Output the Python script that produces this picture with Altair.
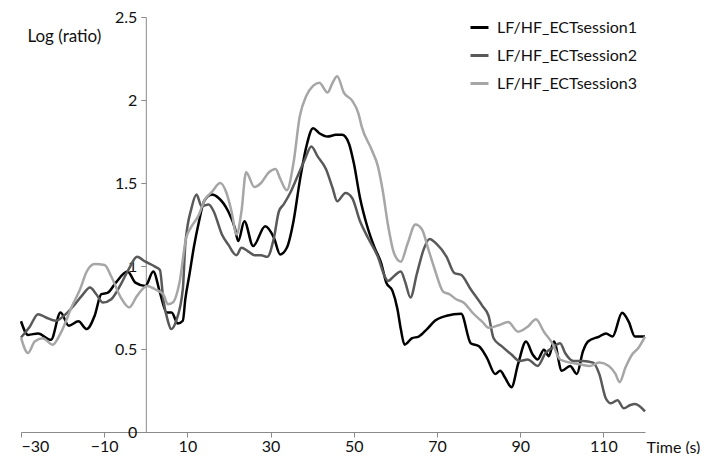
import altair as alt
import pandas as pd

# ---- data ----
series_names = ["LF/HF_ECTsession1", "LF/HF_ECTsession2", "LF/HF_ECTsession3"]
series_colors = ["#000000", "#595959", "#a6a6a6"]

t1 = [-30, -28.3, -25.9, -22.8, -20.5, -18.5, -16.2, -14.2, -12.3, -10.7, -9.1, -7.2, -4.4, -2.5, -0.1,
      1.8, 3.4, 5.0, 6.2, 7.7, 8.9, 9.5, 10.5, 11.6, 12.8, 14, 15.9, 17.5, 19.8, 21.4, 22.2, 23.7, 25.8,
      28.7, 30.8, 32.3, 33.9, 35.5, 37, 38.6, 40.2, 41.7, 43.7, 45.7, 47.2, 48.8, 50, 51.5, 53.1, 55,
      56.6, 57.8, 59.3, 60.5, 61.3, 62.2, 64, 65.6, 67.6, 69.5, 72.3, 75.8, 78.1, 80.1, 82, 84, 85.2,
      86.3, 87.9, 89.5, 91.4, 93, 94.2, 95.7, 96.9, 98.1, 100, 102, 103.6, 105.1, 106.3, 109, 110.6,
      112.2, 114.5, 116.1, 117.6, 120]
v1 = [0.667, 0.585, 0.594, 0.555, 0.72, 0.64, 0.667, 0.62, 0.70, 0.83, 0.84, 0.90, 0.967, 0.90, 0.88,
      0.967, 0.84, 0.72, 0.72, 0.653, 0.67, 0.80, 0.95, 1.12, 1.27, 1.39, 1.43, 1.41, 1.33, 1.23, 1.15,
      1.27, 1.12, 1.24, 1.17, 1.07, 1.11, 1.27, 1.51, 1.72, 1.83, 1.80, 1.78, 1.79, 1.79, 1.74, 1.62,
      1.41, 1.25, 1.11, 1.016, 0.90, 0.85, 0.74, 0.62, 0.526, 0.565, 0.575, 0.62, 0.67, 0.70, 0.712,
      0.535, 0.516, 0.447, 0.35, 0.369, 0.33, 0.27, 0.41, 0.545, 0.467, 0.437, 0.496, 0.457, 0.545,
      0.369, 0.398, 0.35, 0.487, 0.545, 0.575, 0.594, 0.575, 0.718, 0.663, 0.575, 0.575]

t2 = [-30, -27.9, -25.9, -24, -21.6, -19.7, -17.7, -15.4, -13.4, -11.9, -10.3, -8.3, -6, -4, -2.1, -0.1,
      2.2, 3.4, 4.2, 5.3, 6.1, 7.3, 8.9, 9.5, 11, 12.2, 13.4, 15.1, 16.3, 18.3, 19.8, 21.8, 23, 24.5,
      26.1, 27.7, 29.2, 30.8, 32, 33.1, 34.7, 36.3, 38.2, 39.8, 41.3, 43.3, 44.9, 46, 48, 49.6, 51.5,
      53.4, 55.8, 57.4, 58.2, 59.7, 61.3, 62.4, 63.6, 65.2, 66.8, 68.2, 69.9, 72.3, 74.2, 75.8, 78.1,
      80.9, 82.4, 83.6, 85.6, 87.9, 89.9, 91.8, 94.2, 96.1, 97.7, 99.6, 100.8, 102.8, 105.1, 107.5,
      109, 110.6, 111.8, 113.4, 114.9, 116.5, 117.6, 120]
v2 = [0.569, 0.634, 0.71, 0.69, 0.67, 0.70, 0.75, 0.82, 0.87, 0.83, 0.78, 0.80, 0.89, 0.986, 1.055, 1.026,
      0.996, 0.976, 0.80, 0.67, 0.62, 0.67, 0.86, 1.13, 1.35, 1.43, 1.36, 1.37, 1.33, 1.19, 1.13, 1.065,
      1.11, 1.09, 1.065, 1.065, 1.055, 1.17, 1.33, 1.37, 1.44, 1.53, 1.64, 1.72, 1.66, 1.585, 1.47, 1.39,
      1.44, 1.41, 1.27, 1.17, 1.055, 0.94, 0.91, 0.94, 0.967, 0.90, 0.81, 0.957, 1.10, 1.163, 1.133,
      1.055, 0.957, 0.947, 0.86, 0.76, 0.70, 0.565, 0.516, 0.467, 0.428, 0.437, 0.398, 0.476, 0.506,
      0.535, 0.476, 0.428, 0.428, 0.418, 0.35, 0.202, 0.173, 0.192, 0.143, 0.163, 0.169, 0.124]

t3 = [-30, -28.3, -26.7, -24.8, -22.4, -20.5, -17.7, -15.8, -14.2, -12.3, -9.9, -8.3, -6, -4, -2.1, 0.3,
      2.2, 4.2, 5.3, 6.5, 8.1, 9.7, 10.8, 12.8, 14, 15.9, 17.9, 19.4, 20.6, 21.8, 23, 24.1, 26.1, 27.7,
      29.6, 31.2, 32.3, 33.9, 35.5, 37, 38.6, 40.2, 41.7, 43.7, 44.9, 46, 47.6, 49.6, 51.1, 51.9, 54.3,
      55.8, 57, 58.2, 59.7, 61.3, 62.9, 64.8, 66.4, 68, 69.5, 71.5, 73, 74.6, 76.6, 78.5, 80.9, 82.4,
      84.8, 87.1, 89.5, 91.8, 93.8, 95.7, 97.7, 99.6, 102, 104.3, 106.7, 109, 111.3, 112.9, 113.9,
      115.3, 116.9, 118.4, 120]
v3 = [0.569, 0.476, 0.545, 0.565, 0.526, 0.594, 0.76, 0.86, 0.967, 1.012, 1.006, 0.937, 0.81, 0.75, 0.82,
      0.88, 0.86, 0.83, 0.77, 0.78, 0.90, 1.17, 1.23, 1.31, 1.39, 1.447, 1.50, 1.44, 1.33, 1.19, 1.33,
      1.565, 1.476, 1.50, 1.565, 1.585, 1.526, 1.457, 1.62, 1.90, 2.026, 2.085, 2.104, 2.045, 2.104,
      2.143, 2.045, 1.996, 1.92, 1.84, 1.70, 1.60, 1.447, 1.25, 1.075, 1.026, 1.133, 1.25, 1.22, 1.094,
      0.976, 0.845, 0.83, 0.80, 0.776, 0.72, 0.663, 0.628, 0.643, 0.663, 0.604, 0.634, 0.679, 0.604,
      0.535, 0.437, 0.418, 0.408, 0.398, 0.418, 0.398, 0.35, 0.30, 0.388, 0.467, 0.506, 0.575]

x_ticks = [-30, -10, 10, 30, 50, 70, 90, 110]
y_ticks = [0, 0.5, 1, 1.5, 2, 2.5]

frames = []
for name, t, v in zip(series_names, [t1, t2, t3], [v1, v2, v3]):
    frames.append(pd.DataFrame({"t": t, "v": v, "series": name, "idx": range(len(t))}))
df = pd.concat(frames, ignore_index=True)

W = 624
H = 415
AXIS_GRAY = "#8a8a8a"
TEXT = "#111111"
FONT = "Lato"
FS = 16

chart = alt.Chart(df).mark_line(strokeWidth=2.5, interpolate="monotone").encode(
    x=alt.X("t:Q",
            scale=alt.Scale(domain=[-30, 120], nice=False, zero=False),
            axis=alt.Axis(values=x_ticks, format="d", title="Time (s)", grid=False,
                          domainColor=AXIS_GRAY, tickColor=AXIS_GRAY, tickSize=5,
                          labelFontSize=FS, labelPadding=1, labelColor=TEXT,
                          titleFontSize=16, titleFontWeight="normal", titleColor=TEXT,
                          titleAlign="left", titleBaseline="middle",
                          titleX=W + 1, titleY=15)),
    y=alt.Y("v:Q",
            scale=alt.Scale(domain=[0, 2.5], nice=False),
            axis=alt.Axis(values=y_ticks, format=".1~f", title="Log (ratio)", grid=False,
                          offset=-W / 5,
                          domainColor=AXIS_GRAY, tickColor=AXIS_GRAY, tickSize=5,
                          labelFontSize=FS, labelPadding=4, labelColor=TEXT,
                          titleFontSize=17, titleFontWeight="normal", titleColor=TEXT,
                          titleAngle=0, titleAlign="center", titleBaseline="middle",
                          titleX=-82, titleY=19)),
    color=alt.Color("series:N",
                    scale=alt.Scale(domain=series_names, range=series_colors),
                    legend=alt.Legend(title=None, orient="none", legendX=448, legendY=0,
                                      symbolType="stroke", symbolSize=324, symbolStrokeWidth=3,
                                      labelFontSize=FS, labelColor=TEXT, labelOffset=7,
                                      rowPadding=9, padding=0)),
    order="idx:Q",
).properties(
    width=W, height=H,
    autosize=alt.AutoSizeParams(type="none"),
    padding={"left": 13, "top": 9, "right": 56, "bottom": 22},
).configure(font=FONT).configure_view(stroke=None)

chart.save("out.html", embed_options={"renderer": "svg", "actions": False})
